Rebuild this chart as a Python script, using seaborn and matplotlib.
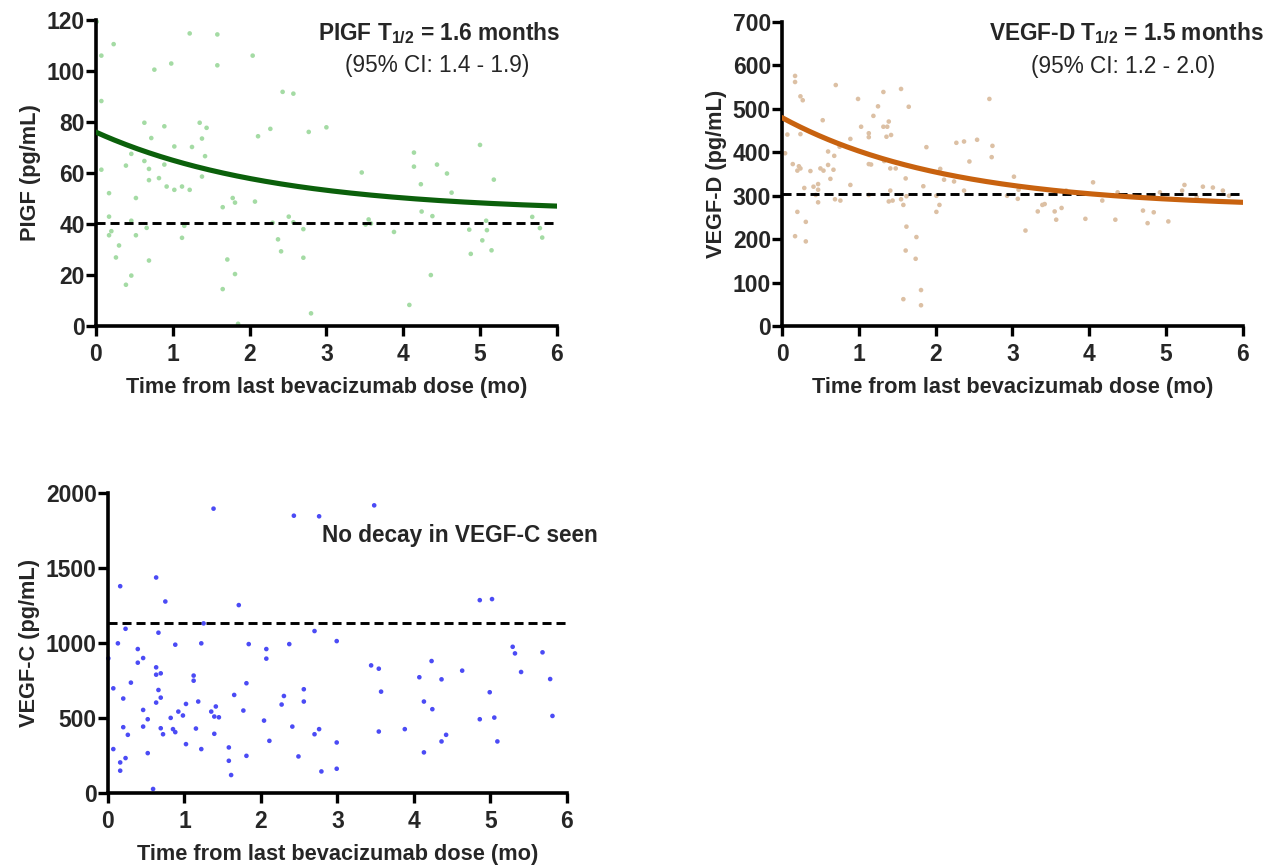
import numpy as np
import pandas as pd
import matplotlib.pyplot as plt
import seaborn as sns

# PIGF scatter (months, pg/mL)
pigf_time = [0.01, 0.07, 0.23, 1.22, 1.58, 2.04, 1.58, 0.76, 0.98, 0.07, 2.43, 2.57,
             0.63, 0.89, 1.35, 1.44, 2.27, 2.77, 3.0, 0.72, 1.38, 2.11, 1.02, 1.25,
             0.46, 1.42, 0.39, 0.63, 0.89, 0.07, 0.69, 1.38, 0.69, 0.82, 0.92, 1.02,
             1.12, 1.22, 0.17, 0.52, 1.78, 1.81, 2.07, 1.65, 0.17, 0.46, 0.66, 1.15,
             2.51, 2.57, 2.30, 0.20, 0.17, 0.52, 1.12, 2.37, 2.70, 0.30, 2.41, 0.26,
             0.69, 1.71, 2.70, 0.46, 1.81, 0.39, 1.65, 1.85, 2.80,
             3.46, 3.55, 3.58, 3.51, 3.88, 4.08, 4.14, 4.14, 4.23, 4.24, 4.38, 4.36,
             4.44, 4.57, 4.63, 4.86, 4.88, 5.0, 5.03, 5.08, 5.09, 5.15, 5.18, 5.68,
             5.78, 5.81]
pigf_val = [119.3, 106, 110.5, 114.7, 114.3, 106, 102.2, 100.5, 102.9, 88.2, 91.8, 91.1,
            79.7, 78.3, 79.7, 77.7, 77.3, 76.1, 77.9, 73.7, 73.5, 74.4, 70.4, 70.2,
            67.5, 66.6, 62.9, 64.7, 63.3, 61.3, 61.6, 58.6, 57.2, 58.0, 54.7, 53.4,
            54.7, 53.4, 52.1, 50.2, 50.2, 48.4, 48.8, 46.6, 42.9, 41.3, 38.5, 39.3,
            42.9, 40.7, 40.5, 37.2, 35.6, 35.6, 34.6, 34.0, 38.0, 31.6, 29.3, 26.9,
            25.7, 26.1, 26.8, 19.8, 20.4, 16.2, 14.5, 0.9, 5.0,
            60.2, 41.8, 40.2, 39.8, 36.9, 8.3, 68.0, 62.5, 55.6, 44.9, 43.1, 20.0,
            63.3, 59.8, 52.3, 37.8, 28.3, 71.0, 33.6, 41.3, 37.6, 29.7, 57.4, 42.8,
            38.4, 34.7]

# VEGF-D scatter
vegfd_time = [0.17, 0.17, 0.24, 0.27, 0.70, 1.32, 1.55, 1.65, 0.99, 1.25, 1.19, 0.53,
              1.32, 1.37, 1.39, 1.36, 1.42, 1.03, 1.13, 1.13, 0.89, 1.88, 2.27, 2.37,
              2.54, 2.70, 2.74, 2.73, 0.07, 0.24, 0.04, 0.14, 0.22, 0.24, 0.20, 0.37,
              0.50, 0.54, 0.60, 0.68, 0.60, 0.67, 0.63, 0.75, 0.89, 1.13, 1.16, 1.41,
              1.48, 1.33, 1.61, 1.84, 2.06, 2.11, 2.24, 2.44, 2.37, 0.29, 0.41, 0.47,
              0.47, 0.44, 0.47, 0.69, 0.76, 1.13, 1.41, 1.39, 1.44, 1.55, 1.58, 1.62,
              2.01, 2.05, 2.01, 2.93, 3.02, 0.20, 0.31, 0.17, 0.31, 1.62, 1.61, 1.75,
              1.74, 1.81, 1.81, 1.58,
              3.08, 3.07, 3.17, 3.33, 3.39, 3.42, 3.55, 3.57, 3.64, 3.70, 3.95, 4.05,
              4.17, 4.34, 4.37, 4.70, 4.76, 4.84, 5.03, 5.21, 5.24, 5.48, 5.61, 5.74,
              5.82, 5.40, 4.92]
vegfd_val = [576, 562, 529, 520, 555, 539, 546, 505, 523, 506, 484, 474,
             459, 459, 471, 436, 440, 459, 444, 435, 431, 412, 422, 425,
             429, 523, 415, 389, 441, 442, 398, 373, 368, 363, 358, 357,
             363, 358, 371, 392, 402, 360, 339, 413, 325, 373, 372, 363,
             363, 380, 340, 322, 362, 337, 333, 379, 312, 318, 321, 327,
             314, 302, 285, 292, 289, 302, 312, 287, 289, 292, 279, 299,
             300, 279, 263, 300, 344, 263, 240, 207, 195, 229, 174, 205,
             155, 83, 48, 62,
             314, 293, 220, 264, 279, 281, 264, 245, 272, 312, 247, 331,
             289, 245, 308, 266, 237, 262, 241, 312, 325, 321, 319, 312,
             300, 297, 308]

# VEGF-C scatter
vegfc_time = [0.005, 0.07, 0.07, 0.13, 0.16, 0.16, 0.16, 0.20, 0.20, 0.23, 0.23, 0.26,
              0.30, 0.39, 0.39, 0.46, 0.46, 0.46, 0.52, 0.52, 0.59, 0.63, 0.63, 0.63,
              0.63, 0.66, 0.66, 0.69, 0.69, 0.69, 0.72, 0.75, 0.82, 0.85, 0.88, 0.88,
              0.92, 0.98, 1.02, 1.02, 1.12, 1.12, 1.15, 1.18, 1.22, 1.22, 1.25, 1.35,
              1.38, 1.39, 1.39, 1.41, 1.45, 1.58, 1.58, 1.61, 1.65, 1.71, 1.77, 1.81,
              1.81, 1.84, 2.04, 2.07, 2.07, 2.11, 2.27, 2.30, 2.37, 2.41, 2.43, 2.49,
              2.56, 2.56, 2.70, 2.70, 2.76, 2.76, 2.79, 2.99, 2.99, 2.99, 3.44, 3.48,
              3.54, 3.54, 3.57, 3.88, 4.07, 4.13, 4.13, 4.23, 4.24, 4.36, 4.36, 4.42,
              4.63, 4.86, 4.86, 4.99, 5.02, 5.05, 5.09, 5.29, 5.32, 5.40, 5.68, 5.78,
              5.81]
vegfc_val = [898, 698, 293, 998, 1379, 204, 149, 630, 439, 1095, 233, 388,
             736, 960, 869, 900, 554, 443, 492, 266, 27, 1437, 838, 789,
             603, 1069, 687, 798, 636, 432, 392, 1277, 501, 426, 406, 989,
             543, 517, 594, 326, 783, 749, 430, 610, 998, 293, 1131, 543,
             1896, 510, 395, 577, 505, 304, 215, 120, 654, 1253, 550, 732,
             248, 993, 483, 960, 896, 348, 590, 647, 993, 443, 1849, 244,
             692, 610, 392, 1080, 1845, 426, 144, 1013, 337, 162, 851, 1918,
             829, 410, 676, 426, 772, 610, 271, 880, 559, 758, 344, 388,
             816, 1286, 492, 672, 1293, 503, 344, 975, 931, 807, 938, 760,
             514]

# one-phase decay fits: y0, plateau, half-life (months)
pigf_fit = (76.0, 44.7, 1.6)
vegfd_fit = (480.0, 272.0, 1.5)

# reference (dashed) levels
pigf_ref = 40.5
vegfd_ref = 303
vegfc_ref = 1135

sns.set_style("ticks")
plt.rcParams["font.family"] = ["Liberation Sans", "DejaVu Sans"]
plt.rcParams["mathtext.fontset"] = "custom"
plt.rcParams["mathtext.rm"] = "Liberation Sans"
plt.rcParams["mathtext.bf"] = "Liberation Sans:bold"

fig = plt.figure(figsize=(12.73, 8.65), dpi=100)
ax1 = fig.add_axes([0.0754, 0.623, 0.362, 0.354])
ax2 = fig.add_axes([0.6143, 0.623, 0.362, 0.3515])
ax3 = fig.add_axes([0.0848, 0.0832, 0.3606, 0.3468])

xfit = np.linspace(0, 6, 200)
dash = (0, (3.1, 1.7))


def decay(fit):
    y0, plat, half = fit
    return plat + (y0 - plat) * np.exp(-np.log(2) / half * xfit)


def style_axis(ax, ymax, ystep, ylabel):
    ax.set_xlim(0, 6)
    ax.set_ylim(0, ymax)
    ax.set_xticks(range(0, 7))
    ax.set_yticks(np.arange(0, ymax + 1, ystep))
    sns.despine(ax=ax)
    for s in ["left", "bottom"]:
        ax.spines[s].set_linewidth(2.6)
        ax.spines[s].set_color("black")
    ax.tick_params(width=2.4, length=7, color="black", labelsize=16.5)
    ax.tick_params(axis="x", pad=5)
    ax.tick_params(axis="y", pad=1)
    for lab in ax.get_xticklabels() + ax.get_yticklabels():
        lab.set_fontweight("bold")
    ax.set_xlabel("Time from last bevacizumab dose (mo)", fontsize=15.7, fontweight="bold", labelpad=8)
    ax.set_ylabel(ylabel, fontsize=15.7, fontweight="bold", labelpad=4)


# PIGF
sns.scatterplot(x=pigf_time, y=pigf_val, ax=ax1, color="#a4dba4", s=11,
                edgecolor="none", marker="o", clip_on=False, zorder=2)
ax1.axhline(pigf_ref, color="black", lw=2.1, ls=dash, zorder=3)
sns.lineplot(x=xfit, y=decay(pigf_fit), ax=ax1, color="#0b600b", lw=3.7, zorder=4)
style_axis(ax1, 120, 20, "PIGF (pg/mL)")
ax1.text(6.04, 114.9, r"PIGF T$_{\mathbf{1/2}}$ = 1.6 months", ha="right", va="center",
         fontsize=16.3, fontweight="bold", clip_on=False)
ax1.text(4.44, 102, "(95% CI: 1.4 - 1.9)", ha="center", va="center", fontsize=16.3)

# VEGF-D
sns.scatterplot(x=vegfd_time, y=vegfd_val, ax=ax2, color="#dcc0a4", s=11,
                edgecolor="none", marker="o", clip_on=False, zorder=2)
ax2.axhline(vegfd_ref, color="black", lw=2.1, ls=dash, zorder=3)
sns.lineplot(x=xfit, y=decay(vegfd_fit), ax=ax2, color="#c8620f", lw=3.7, zorder=4)
style_axis(ax2, 700, 100, "VEGF-D (pg/mL)")
ax2.text(6.27, 674.7, r"VEGF-D T$_{\mathbf{1/2}}$ = 1.5 months", ha="right", va="center",
         fontsize=16.3, fontweight="bold", clip_on=False)
ax2.text(4.44, 598.7, "(95% CI: 1.2 - 2.0)", ha="center", va="center", fontsize=16.3)

# VEGF-C
sns.scatterplot(x=vegfc_time, y=vegfc_val, ax=ax3, color="#4b4bf5", s=11,
                edgecolor="none", marker="o", clip_on=False, zorder=2)
ax3.axhline(vegfc_ref, color="black", lw=2.1, ls=dash, zorder=3)
style_axis(ax3, 2000, 500, "VEGF-C (pg/mL)")
ax3.text(6.4, 1720, "No decay in VEGF-C seen", ha="right", va="center",
         fontsize=16.3, fontweight="bold", clip_on=False)

fig.savefig("out.png", dpi=100)
